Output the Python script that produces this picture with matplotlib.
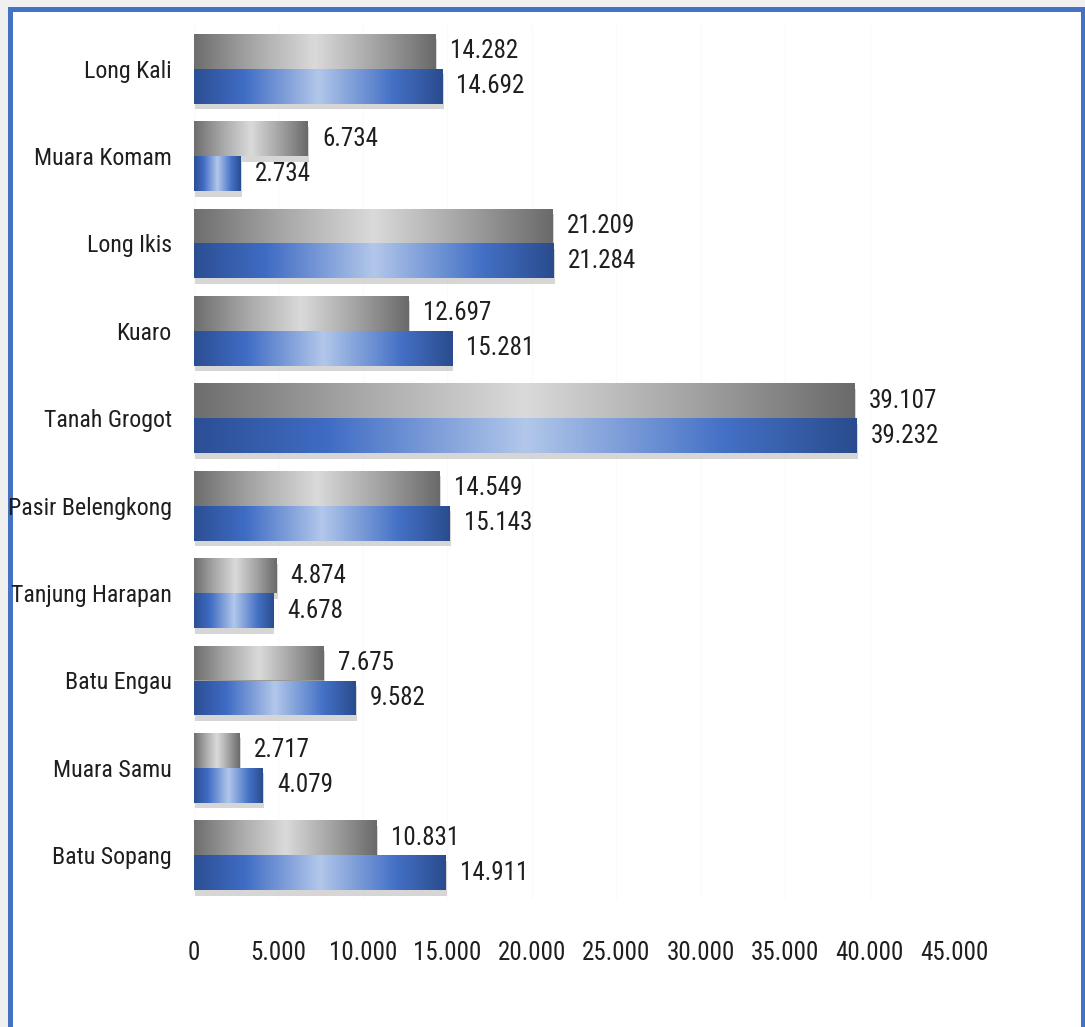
import numpy as np
import matplotlib.pyplot as plt
import matplotlib.patheffects as pe
from matplotlib import font_manager
from matplotlib.colors import LinearSegmentedColormap
from matplotlib.patches import Rectangle

# data
districts = ['Long Kali', 'Muara Komam', 'Long Ikis', 'Kuaro', 'Tanah Grogot',
             'Pasir Belengkong', 'Tanjung Harapan', 'Batu Engau', 'Muara Samu',
             'Batu Sopang']
gray_vals = [14282, 6734, 21209, 12697, 39107, 14549, 4874, 7675, 2717, 10831]
blue_vals = [14692, 2734, 21284, 15281, 39232, 15143, 4678, 9582, 4079, 14911]
x_ticks = [0, 5000, 10000, 15000, 20000, 25000, 30000, 35000, 40000, 45000]

# the reference uses a narrow (Calibri-like) face; take the narrowest one installed
installed = {f.name for f in font_manager.fontManager.ttflist}
font_name, FS = 'DejaVu Sans', 13.5
for name, size in [('Liberation Sans Narrow', 18.5), ('Roboto Condensed', 18),
                   ('Open Sans Condensed', 18), ('DejaVu Sans Condensed', 15)]:
    if name in installed:
        font_name, FS = name, size
        break
plt.rcParams['font.family'] = [font_name, 'DejaVu Sans']
TXT = '#1e1e1e'


def fmt(v):
    return f"{v:,}".replace(',', '.')


# gradients: dark at the bar ends, light in the middle
gray_cmap = LinearSegmentedColormap.from_list(
    'g', [(0, '#6e6e6e'), (0.25, '#a8a8a8'), (0.5, '#dadada'), (0.75, '#a4a4a4'), (1, '#6a6a6a')])
blue_cmap = LinearSegmentedColormap.from_list(
    'b', [(0, '#2c4f94'), (0.2, '#3f6cc4'), (0.5, '#b2c7ea'), (0.8, '#4471c6'), (1, '#2a4c8e')])
grad = np.linspace(0, 1, 256).reshape(1, -1)

fig = plt.figure(figsize=(10.85, 10.27), dpi=100)
fig.patch.set_facecolor('#f0f0f0')

# white card with blue frame (bottom runs off the picture)
card = Rectangle((9.5 / 1085, -0.05), (1082.5 - 9.5) / 1085, 1.05 - 9.5 / 1027,
                 transform=fig.transFigure, facecolor='white',
                 edgecolor='#4472c4', linewidth=3.6, zorder=-5)
fig.patches.append(card)

ax = fig.add_axes([194 / 1085, 1 - 899 / 1027, (954 - 194) / 1085, (899 - 25) / 1027])
ax.set_zorder(5)
ax.set_facecolor('none')

y = np.arange(len(districts))
h = 0.4
shadow = [pe.SimplePatchShadow(offset=(1, -4), shadow_rgbFace='#7a7a7a', alpha=0.3), pe.Normal()]

for vals, off, cmap in [(gray_vals, -0.2, gray_cmap), (blue_vals, 0.2, blue_cmap)]:
    bars = ax.barh(y + off, vals, height=h, color='#999999', edgecolor='none', zorder=2)
    for bar, v in zip(bars, vals):
        bar.set_path_effects(shadow)
        y0 = bar.get_y()
        im = ax.imshow(grad, cmap=cmap, aspect='auto', extent=[0, v, y0 + h, y0],
                       zorder=3, interpolation='bicubic')
        im.set_clip_path(bar)
        ax.text(v + 850, y0 + h / 2, fmt(v), va='center', ha='left',
                fontsize=FS, color=TXT, zorder=4)

ax.set_xlim(0, 45000)
ax.set_ylim(len(districts) - 0.5, -0.5)
ax.set_xticks(x_ticks)
ax.set_xticklabels([fmt(t) for t in x_ticks], fontsize=FS, color=TXT)
ax.set_yticks(y)
ax.set_yticklabels(districts, fontsize=FS - 0.8, color=TXT)
ax.tick_params(axis='x', length=0, pad=30)
ax.tick_params(axis='y', length=0, pad=16)
ax.grid(axis='x', color='#fafafa', linewidth=1, zorder=0)
ax.set_axisbelow(True)
for s in ax.spines.values():
    s.set_visible(False)

plt.savefig('out.png', dpi=100, facecolor=fig.get_facecolor())
